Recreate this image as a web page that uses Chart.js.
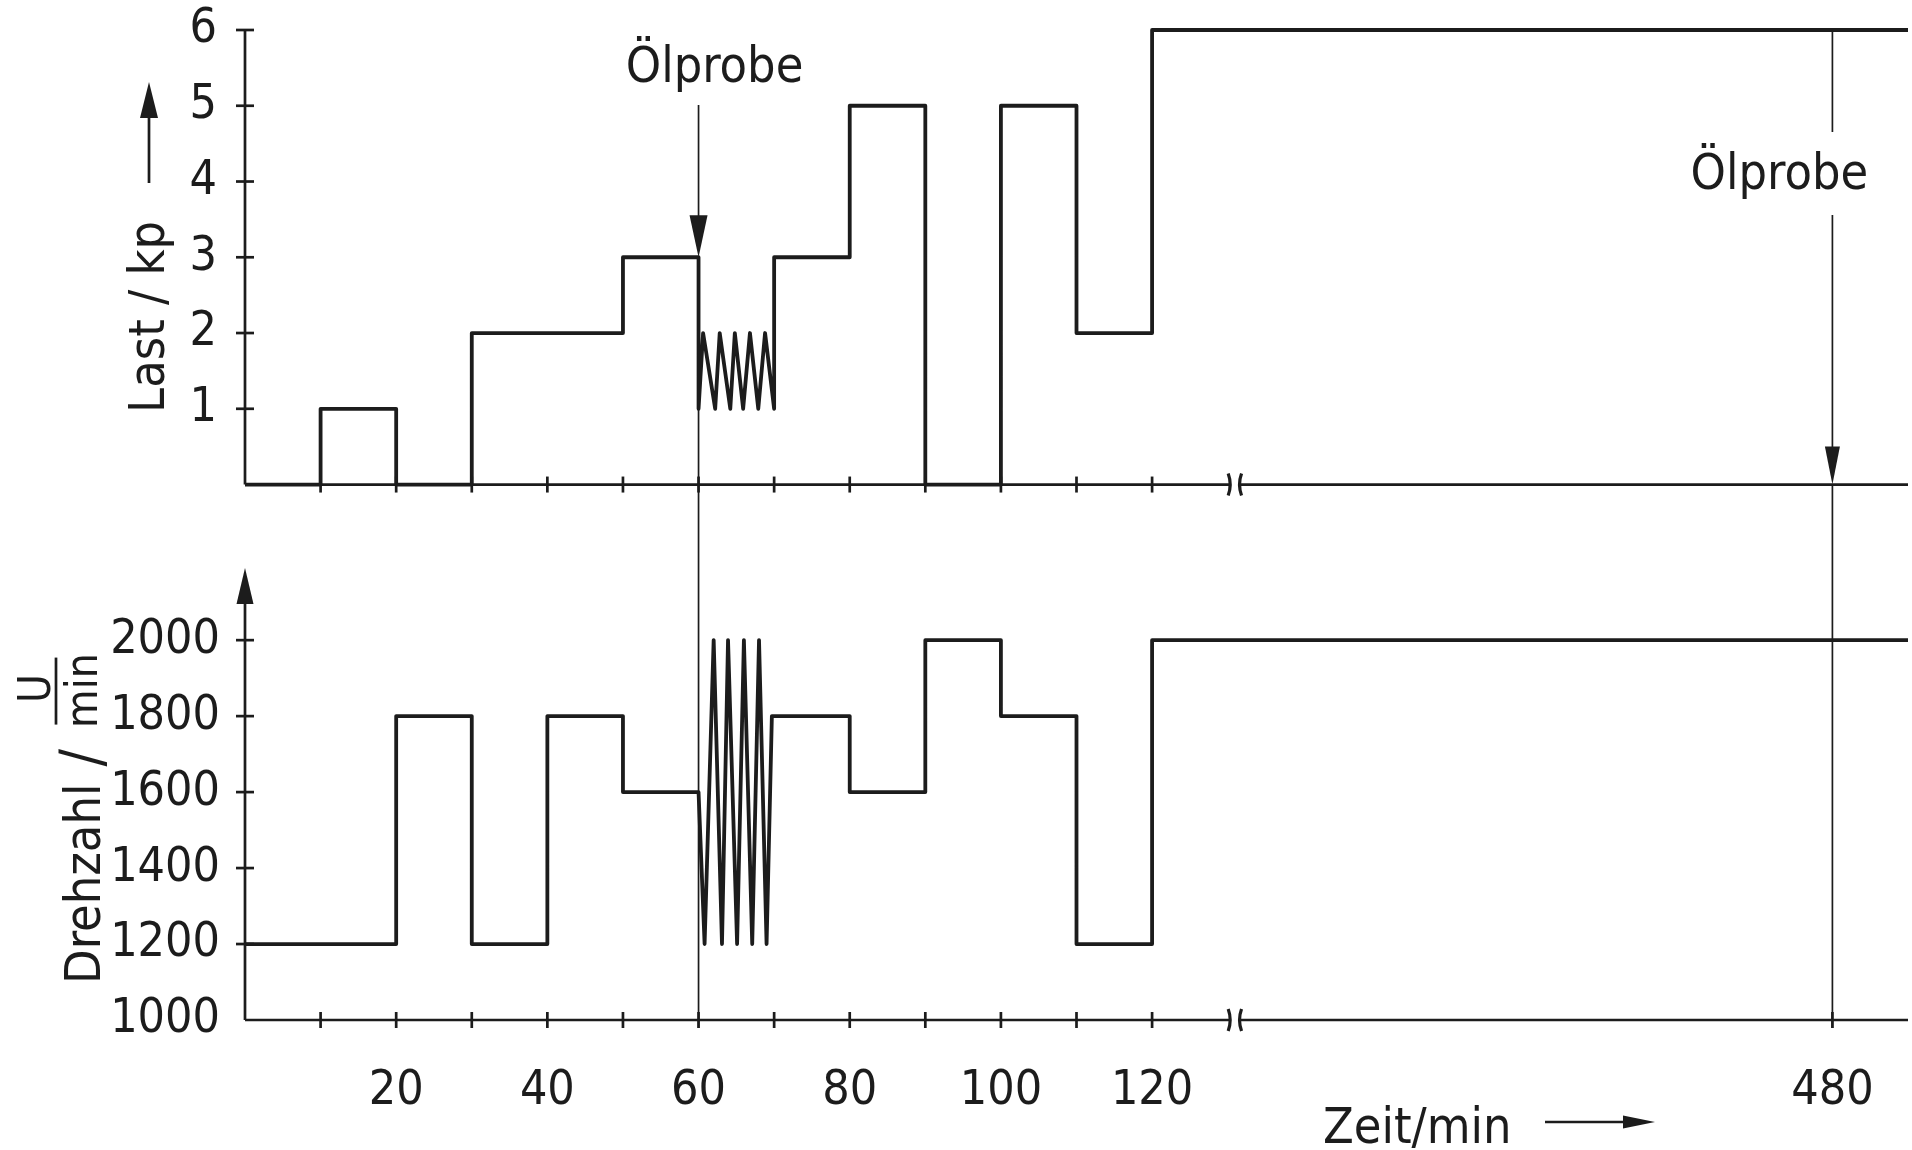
<!DOCTYPE html>
<html>
<head>
<meta charset="utf-8">
<script src="https://cdn.jsdelivr.net/npm/chart.js@4.4.1/dist/chart.umd.min.js"></script>
<style>
  html, body { margin: 0; padding: 0; background: #ffffff; }
  #wrap { width: 1912px; height: 1150px; position: relative; }
  canvas { display: block; }
</style>
</head>
<body>
<div id="wrap"><canvas id="c" width="1912" height="1150"></canvas></div>
<script>
// ---------------- data ----------------
const zeitSprung = 270;          // minutes cut out at the axis break (≈130 … 400 min)
const zeitEnde = 490;            // end of the drawn time range (min)
const zeitTicks = [20, 40, 60, 80, 100, 120, 480];            // labelled times
const zeitStriche = [10, 20, 30, 40, 50, 60, 70, 80, 90, 100, 110, 120]; // tick marks
const lastTicks = [1, 2, 3, 4, 5, 6];
const drehTicks = [1000, 1200, 1400, 1600, 1800, 2000];

// Last / kp : value valid from the given time on (null = oscillation)
const lastZeit = [0, 10, 20, 30, 50, 60, 70, 80, 90, 100, 110, 120];
const lastWert = [0, 1, 0, 2, 3, null, 3, 5, 0, 5, 2, 6];
const lastSchwingZeit = [60, 60.6, 62.2, 62.8, 64.2, 64.8, 65.9, 66.8, 67.9, 68.8, 70];
const lastSchwingWert = [1, 2, 1, 2, 1, 2, 1, 2, 1, 2, 1];

// Drehzahl / U/min
const drehZeit = [0, 20, 30, 40, 50, 60, 70, 80, 90, 100, 110, 120];
const drehWert = [1200, 1800, 1200, 1800, 1600, null, 1800, 1600, 2000, 1800, 1200, 2000];
const drehSchwingZeit = [60, 60.8, 62.0, 63.1, 63.9, 65.1, 66.0, 67.1, 68.0, 69.0, 69.7];
const drehSchwingWert = [1600, 1200, 2000, 1200, 2000, 1200, 2000, 1200, 2000, 1200, 1800];

// oil samples
const probeZeit = [60, 480];
const probeLast = [3, 0];

// ---------------- helpers ----------------
const ink = '#1c1c1c';
const schrift = "'DejaVu Sans Condensed', 'Liberation Sans Narrow', 'DejaVu Sans', sans-serif";

function toAxis(t) { return t > 130 ? t - zeitSprung : t; }
function fromAxis(v) { return v > 130 ? v + zeitSprung : v; }

function baueStufen(zeiten, werte, sZeit, sWert) {
  const pts = [];
  let prev = null;
  zeiten.forEach((t, i) => {
    const v = werte[i];
    if (prev !== null) pts.push({ x: toAxis(t), y: prev });
    if (v === null) {
      sZeit.forEach((st, j) => pts.push({ x: toAxis(st), y: sWert[j] }));
      prev = null;
    } else {
      pts.push({ x: toAxis(t), y: v });
      prev = v;
    }
  });
  pts.push({ x: toAxis(zeitEnde), y: prev });
  return pts;
}

function linie(ctx, x1, y1, x2, y2) {
  ctx.beginPath(); ctx.moveTo(x1, y1); ctx.lineTo(x2, y2); ctx.stroke();
}
function pfeil(ctx, x1, y1, x2, y2, len, breite) {
  const ang = Math.atan2(y2 - y1, x2 - x1);
  const c = Math.cos(ang), s = Math.sin(ang);
  linie(ctx, x1, y1, x2 - c * len * 0.7, y2 - s * len * 0.7);
  ctx.beginPath();
  ctx.moveTo(x2, y2);
  ctx.lineTo(x2 - c * len + s * breite / 2, y2 - s * len - c * breite / 2);
  ctx.lineTo(x2 - c * len - s * breite / 2, y2 - s * len + c * breite / 2);
  ctx.closePath();
  ctx.fill();
}
function ohnePadding(s) {
  s.paddingTop = 0; s.paddingBottom = 0; s.paddingLeft = 0; s.paddingRight = 0;
}

// ---------------- plugins ----------------
const achsenPlugin = {
  id: 'achsen',
  beforeDatasetsDraw(chart) {
    const { ctx, scales: { x, yL, yD } } = chart;
    const x0 = x.getPixelForValue(0);
    const xR = x.right;
    const b1 = x.getPixelForValue(130.2), b2 = x.getPixelForValue(131.7);
    ctx.save();
    ctx.strokeStyle = ink; ctx.fillStyle = ink;
    ctx.lineWidth = 2.7; ctx.lineCap = 'butt';

    // upper y axis
    const yL0 = yL.getPixelForValue(0);
    linie(ctx, x0, yL0, x0, yL.getPixelForValue(6));
    lastTicks.forEach(v => { const y = yL.getPixelForValue(v); linie(ctx, x0 - 9, y, x0 + 9, y); });

    // lower y axis with arrow
    const yD0 = yD.getPixelForValue(1000);
    pfeil(ctx, x0, yD0, x0, yD.getPixelForValue(2190), 36, 17);
    drehTicks.filter(v => v > 1000).forEach(v => { const y = yD.getPixelForValue(v); linie(ctx, x0 - 9, y, x0 + 9, y); });

    // x axes (upper and lower) with break
    [yL0, yD0].forEach((y, k) => {
      ctx.lineWidth = 2.7;
      linie(ctx, x0, y, b1, y);
      linie(ctx, b2, y, xR, y);
      const striche = k === 0 ? zeitStriche : zeitStriche.concat([480]);
      striche.forEach(t => { const px = x.getPixelForValue(toAxis(t)); linie(ctx, px, y - 8, px, y + 8); });
      ctx.lineWidth = 3.2;
      ctx.beginPath(); ctx.moveTo(b1 - 1, y - 11); ctx.quadraticCurveTo(b1 + 3, y, b1 - 1, y + 11); ctx.stroke();
      ctx.beginPath(); ctx.moveTo(b2 + 1, y - 11); ctx.quadraticCurveTo(b2 - 3, y, b2 + 1, y + 11); ctx.stroke();
    });
    ctx.restore();
  },
  afterDatasetsDraw(chart) {
    const { ctx, chartArea: a, scales: { x, yL, yD } } = chart;
    const yBottom = yD.getPixelForValue(1000);
    ctx.save();
    ctx.strokeStyle = ink; ctx.fillStyle = ink;
    ctx.textBaseline = 'alphabetic';
    ctx.font = `50px ${schrift}`;
    ctx.textAlign = 'center';

    // Ölprobe at 60 min
    const xa = x.getPixelForValue(toAxis(probeZeit[0]));
    const ya = yL.getPixelForValue(probeLast[0]);
    ctx.fillText('Ölprobe', xa + 16, a.top + 52);
    ctx.lineWidth = 1.7;
    pfeil(ctx, xa, a.top + 75, xa, ya, 42, 18);
    linie(ctx, xa, ya, xa, yBottom + 8);

    // Ölprobe at 480 min
    const xb = x.getPixelForValue(toAxis(probeZeit[1]));
    const yb = yL.getPixelForValue(probeLast[1]);
    ctx.fillText('Ölprobe', xb - 53, a.top + 159);
    linie(ctx, xb, a.top, xb, a.top + 102);
    pfeil(ctx, xb, a.top + 185, xb, yb, 38, 15);
    linie(ctx, xb, yb, xb, yBottom + 8);

    // y title upper: Last / kp  with arrow
    const x0 = x.getPixelForValue(0);
    ctx.save();
    ctx.translate(x0 - 81, (yL.getPixelForValue(0) + yL.getPixelForValue(3)) / 2 - 54);
    ctx.rotate(-Math.PI / 2);
    ctx.font = `50px ${schrift}`;
    ctx.textAlign = 'center';
    ctx.fillText('Last / kp', 0, 0);
    ctx.restore();
    ctx.lineWidth = 2.7;
    pfeil(ctx, x0 - 96, a.top + 153, x0 - 96, a.top + 52, 36, 18);

    // y title lower: Drehzahl / U/min
    ctx.save();
    ctx.translate(x0 - 145, yBottom - 36);
    ctx.rotate(-Math.PI / 2);
    ctx.textAlign = 'left';
    ctx.font = `50px ${schrift}`;
    ctx.fillText('Drehzahl', 0, 0);
    const w = ctx.measureText('Drehzahl').width;
    ctx.textAlign = 'center';
    ctx.font = `58px ${schrift}`;
    ctx.fillText('/', w + 26, 2);
    ctx.font = `44px ${schrift}`;
    ctx.fillText('U', w + 95, -50);
    ctx.fillText('min', w + 93, -3);
    ctx.lineWidth = 2.7;
    linie(ctx, w + 59, -44, w + 126, -44);
    ctx.restore();

    // x title: Zeit/min with arrow
    ctx.font = `50px ${schrift}`;
    ctx.textAlign = 'left';
    ctx.fillText('Zeit/min', 1323, yBottom + 123);
    ctx.lineWidth = 2.7;
    pfeil(ctx, 1545, yBottom + 102, 1655, yBottom + 102, 32, 13);
    ctx.restore();
  }
};

// ---------------- chart ----------------
const tickFont = { family: schrift, size: 48 };

new Chart(document.getElementById('c'), {
  type: 'line',
  data: {
    datasets: [
      {
        label: 'Last / kp',
        data: baueStufen(lastZeit, lastWert, lastSchwingZeit, lastSchwingWert),
        xAxisID: 'x', yAxisID: 'yL',
        borderColor: ink, borderWidth: 3.8, pointRadius: 0, tension: 0,
        borderJoinStyle: 'round', clip: false, fill: false
      },
      {
        label: 'Drehzahl / U/min',
        data: baueStufen(drehZeit, drehWert, drehSchwingZeit, drehSchwingWert),
        xAxisID: 'x', yAxisID: 'yD',
        borderColor: ink, borderWidth: 3.8, pointRadius: 0, tension: 0,
        borderJoinStyle: 'round', clip: false, fill: false
      }
    ]
  },
  options: {
    responsive: false,
    animation: false,
    devicePixelRatio: 1,
    layout: { padding: { top: 30, right: 4, left: 0, bottom: 0 } },
    plugins: { legend: { display: false }, tooltip: { enabled: false }, title: { display: false } },
    scales: {
      x: {
        type: 'linear', position: 'bottom', min: 0, max: 220,
        grid: { display: false, drawTicks: false }, border: { display: false },
        afterBuildTicks: s => { s.ticks = zeitTicks.map(t => ({ value: toAxis(t) })); },
        afterFit: s => { s.height = 130; ohnePadding(s); },
        ticks: {
          autoSkip: false, maxRotation: 0, padding: 43, color: ink, font: tickFont,
          callback: v => String(fromAxis(v))
        }
      },
      yD: {
        type: 'linear', position: 'left', stack: 'links', stackWeight: 490,
        min: 1000, max: 2290,
        grid: { display: false, drawTicks: false }, border: { display: false },
        afterBuildTicks: s => { s.ticks = drehTicks.map(v => ({ value: v })); },
        afterFit: s => { s.width = 245; ohnePadding(s); },
        ticks: { autoSkip: false, padding: 25, color: ink, font: tickFont, callback: v => String(v) }
      },
      yL: {
        type: 'linear', position: 'left', stack: 'links', stackWeight: 500,
        min: -0.6, max: 6,
        grid: { display: false, drawTicks: false }, border: { display: false },
        afterBuildTicks: s => { s.ticks = lastTicks.map(v => ({ value: v })); },
        afterFit: s => { s.width = 245; ohnePadding(s); },
        ticks: { autoSkip: false, padding: 28, color: ink, font: tickFont, callback: v => String(v) }
      }
    }
  },
  plugins: [achsenPlugin]
});
</script>
</body>
</html>
